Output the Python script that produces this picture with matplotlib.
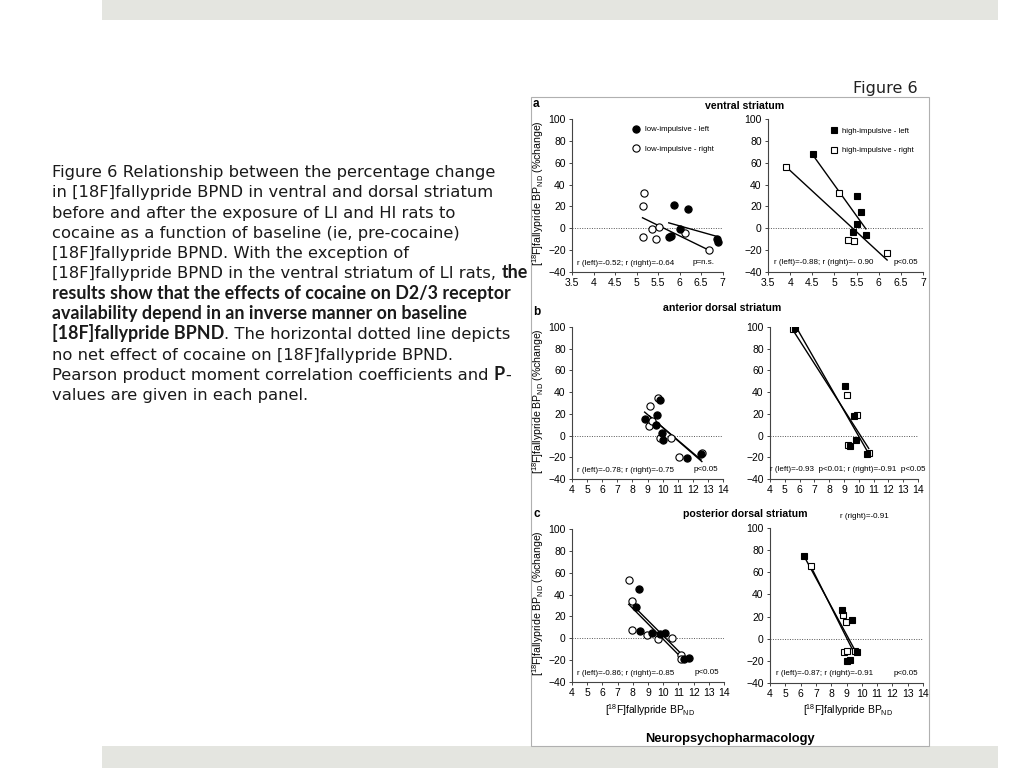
import numpy as np
import matplotlib
matplotlib.use("Agg")
import matplotlib.pyplot as plt
from matplotlib.patches import Rectangle

plt.rcParams['font.family'] = ['Liberation Sans', 'DejaVu Sans']
plt.rcParams['mathtext.default'] = 'regular'

# ---------------- data ----------------
# panel a: ventral striatum
a_li_left_x = [5.75, 5.80, 5.87, 6.00, 6.20, 6.88, 6.90]
a_li_left_y = [-8, -7, 21, -1, 18, -10, -13]
a_li_right_x = [5.17, 5.14, 5.14, 5.36, 5.46, 5.52, 6.13, 6.69]
a_li_right_y = [32, 20, -8, -1, -10, 1, -4, -20]
a_hi_left_x = [4.52, 5.51, 5.61, 5.51, 5.43, 5.71]
a_hi_left_y = [68, 30, 15, 4, -3, -6]
a_hi_right_x = [3.91, 5.10, 5.30, 5.44, 6.19]
a_hi_right_y = [56, 32, -11, -12, -23]

# panel b: anterior dorsal striatum
b_li_left_x = [8.81, 9.56, 9.65, 9.83, 9.98, 10.05, 11.62, 12.54]
b_li_left_y = [15, 10, 19, 33, 2, -4, -21, -17]
b_li_right_x = [9.12, 9.17, 9.32, 9.68, 9.81, 10.53, 11.10, 12.60]
b_li_right_y = [9, 27, 13, 35, -2, -2, -20, -16]
b_hi_left_x = [5.69, 9.10, 9.69, 9.80, 9.40, 10.58]
b_hi_left_y = [99, 46, 18, -4, -10, -17]
b_hi_right_x = [5.53, 9.19, 9.87, 9.25, 10.67]
b_hi_right_y = [98, 37, 19, -9, -16]

# panel c: posterior dorsal striatum
c_li_left_x = [8.19, 8.43, 8.45, 9.24, 9.79, 10.10, 11.37, 11.68]
c_li_left_y = [29, 45, 7, 4.5, 3.5, 5, -19, -18]
c_li_right_x = [7.73, 7.93, 7.93, 8.91, 9.66, 10.58, 11.15, 11.15]
c_li_right_y = [53, 34, 8, 3, -1, 0, -15, -19]
c_hi_left_x = [6.22, 8.73, 9.38, 9.67, 9.05, 9.20]
c_hi_left_y = [75, 26, 17, -12, -20, -19]
c_hi_right_x = [6.66, 8.75, 8.95, 8.82, 9.01, 9.55]
c_hi_right_y = [66, 21, 15, -12, -11, -11]

a_xticks = [3.5, 4, 4.5, 5, 5.5, 6, 6.5, 7]
a_xticklabels = ["3.5", "4", "4.5", "5", "5.5", "6", "6.5", "7"]
bc_xticks = list(range(4, 15))
yticks = [-40, -20, 0, 20, 40, 60, 80, 100]

panel_titles = ["ventral striatum", "anterior dorsal striatum", "posterior dorsal striatum"]
panel_letters = ["a", "b", "c"]
stats_left = [("r (left)=-0.52; r (right)=-0.64", "p=n.s."),
              ("r (left)=-0.78; r (right)=-0.75", "p<0.05"),
              ("r (left)=-0.86; r (right)=-0.85", "p<0.05")]
stats_right = [("r (left)=-0.88; r (right)=- 0.90", "p<0.05"),
               ("r (left)=-0.93  p<0.01; r (right)=-0.91  p<0.05", ""),
               ("r (left)=-0.87; r (right)=-0.91", "p<0.05")]

caption_lines = [
    [("Figure 6 Relationship between the percentage change", "normal")],
    [("in [18F]fallypride BPND in ventral and dorsal striatum", "normal")],
    [("before and after the exposure of LI and HI rats to", "normal")],
    [("cocaine as a function of baseline (ie, pre-cocaine)", "normal")],
    [("[18F]fallypride BPND. With the exception of", "normal")],
    [("[18F]fallypride BPND in the ventral striatum of LI rats, ", "normal"), ("the", "bold")],
    [("results show that the effects of cocaine on D2/3 receptor", "bold")],
    [("availability depend in an inverse manner on baseline", "bold")],
    [("[18F]fallypride BPND", "bold"), (". The horizontal dotted line depicts", "normal")],
    [("no net effect of cocaine on [18F]fallypride BPND.", "normal")],
    [("Pearson product moment correlation coefficients and ", "normal"), ("P", "bold"), ("-", "normal")],
    [("values are given in each panel.", "normal")],
]

# ---------------- figure ----------------
W, H = 1024, 768
fig = plt.figure(figsize=(W / 100, H / 100), dpi=100)
fig.patch.set_facecolor("white")


def frac_rect(x0, y0, x1, y1):
    return [x0 / W, 1 - y1 / H, (x1 - x0) / W, (y1 - y0) / H]


# slide decorations
bar_col = "#e4e5e0"
fig.patches.append(Rectangle((102 / W, 1 - 20 / H), (998 - 102) / W, 20 / H,
                             transform=fig.transFigure, facecolor=bar_col, edgecolor="none"))
fig.patches.append(Rectangle((102 / W, 0), (998 - 102) / W, (768 - 746) / H,
                             transform=fig.transFigure, facecolor=bar_col, edgecolor="none"))
fig.patches.append(Rectangle((531 / W, 1 - 746 / H), (929 - 531) / W, (746 - 97) / H,
                             transform=fig.transFigure, facecolor="none", edgecolor="#b0b0b0", lw=0.8))

fig.text(853 / W, 1 - 88 / H, "Figure 6", fontsize=11.5, family=["DejaVu Sans"],
         va="center", ha="left", color="#222222")

# caption
renderer = fig.canvas.get_renderer()
cap_fonts = {"normal": (["DejaVu Sans"], 11.75), "bold": (["Lato", "DejaVu Sans"], 12.9)}
base0 = 177.0
step = 20.3
for i, segs in enumerate(caption_lines):
    xpx = 52.0
    ypx = base0 + i * step
    for txt, wt in segs:
        fam, size = cap_fonts[wt]
        t = fig.text(xpx / W, 1 - ypx / H, txt, fontsize=size, family=fam,
                     weight=wt, va="baseline", ha="left", color="#1a1a1a")
        bb = t.get_window_extent(renderer=renderer)
        xpx = bb.x1

# axes rectangles in pixels (x0, ytop, x1, ybottom)
rects = [
    [(572, 119, 722.5, 272), (768, 119, 923, 272)],
    [(572, 327, 723, 479), (770, 327, 918, 479)],
    [(572, 529, 724, 682), (770, 528, 923, 683)],
]

li_data = [
    (a_li_left_x, a_li_left_y, a_li_right_x, a_li_right_y),
    (b_li_left_x, b_li_left_y, b_li_right_x, b_li_right_y),
    (c_li_left_x, c_li_left_y, c_li_right_x, c_li_right_y),
]
hi_data = [
    (a_hi_left_x, a_hi_left_y, a_hi_right_x, a_hi_right_y),
    (b_hi_left_x, b_hi_left_y, b_hi_right_x, b_hi_right_y),
    (c_hi_left_x, c_hi_left_y, c_hi_right_x, c_hi_right_y),
]

tick_fs = 7.5
ylabel = "[$^{18}$F]fallypride BP$_{ND}$ (%change)"
xlabel = "[$^{18}$F]fallypride BP$_{ND}$"


def style_axes(ax, row):
    for s in ["top", "right"]:
        ax.spines[s].set_visible(False)
    for s in ["left", "bottom"]:
        ax.spines[s].set_color("#444444")
        ax.spines[s].set_linewidth(0.8)
    ax.set_ylim(-40, 100)
    ax.set_yticks(yticks)
    if row == 0:
        ax.set_xlim(3.5, 7)
        ax.set_xticks(a_xticks)
        ax.set_xticklabels(a_xticklabels)
    else:
        ax.set_xlim(4, 14)
        ax.set_xticks(bc_xticks)
    ax.tick_params(axis="both", labelsize=tick_fs, length=2.5, width=0.7,
                   color="#444444", pad=2, direction="out")
    ax.axhline(0, ls=(0, (1, 1.5)), color="#555555", lw=0.7, zorder=1)


def fit_line(ax, x, y):
    x = np.asarray(x, float)
    y = np.asarray(y, float)
    k, b = np.polyfit(x, y, 1)
    xs = np.array([x.min(), x.max()])
    ax.plot(xs, k * xs + b, color="black", lw=1.0, zorder=2)


ms_c = 5.2
ms_s = 5.0
for row in range(3):
    # left: low impulsive (circles)
    ax = fig.add_axes(frac_rect(*rects[row][0]))
    style_axes(ax, row)
    lx, ly, rx, ry = li_data[row]
    fit_line(ax, lx, ly)
    fit_line(ax, rx, ry)
    h1, = ax.plot(rx, ry, "o", ms=ms_c, mfc="white", mec="black", mew=0.8, ls="none", zorder=3,
                  label="low-impulsive - right")
    h0, = ax.plot(lx, ly, "o", ms=ms_c, mfc="black", mec="black", mew=0.8, ls="none", zorder=4,
                  label="low-impulsive - left")
    if row == 0:
        ax.legend(handles=[h0, h1], loc="upper left", bbox_to_anchor=(0.36, 0.99), frameon=False,
                  fontsize=5.6, labelspacing=1.55, handletextpad=0.5, handlelength=1.2,
                  borderpad=0.2, numpoints=1)
    s, p = stats_left[row]
    ax.text(0.03, 0.055, s, transform=ax.transAxes, fontsize=5.8, ha="left", va="center")
    ax.text(0.97 if row > 0 else 0.80, 0.065, p, transform=ax.transAxes, fontsize=5.8,
            ha="right" if row > 0 else "left", va="center")

    # right: high impulsive (squares)
    ax2 = fig.add_axes(frac_rect(*rects[row][1]))
    style_axes(ax2, row)
    lx, ly, rx, ry = hi_data[row]
    fit_line(ax2, lx, ly)
    fit_line(ax2, rx, ry)
    g1, = ax2.plot(rx, ry, "s", ms=ms_s, mfc="white", mec="black", mew=0.8, ls="none", zorder=3,
                   label="high-impulsive - right")
    g0, = ax2.plot(lx, ly, "s", ms=ms_s, mfc="black", mec="black", mew=0.8, ls="none", zorder=4,
                   label="high-impulsive - left")
    if row == 0:
        ax2.legend(handles=[g0, g1], loc="upper left", bbox_to_anchor=(0.36, 0.98), frameon=False,
                   fontsize=5.6, labelspacing=1.55, handletextpad=0.5, handlelength=1.2,
                   borderpad=0.2, numpoints=1)
    s, p = stats_right[row]
    ax2.text(0.04 if row != 1 else 0.0, 0.06, s, transform=ax2.transAxes, fontsize=5.8,
             ha="left", va="center")
    if p:
        ax2.text(0.97, 0.06, p, transform=ax2.transAxes, fontsize=5.8, ha="right", va="center")

    # row labels
    ytop = rects[row][0][1]
    ybot = rects[row][0][3]
    fig.text(533 / W, 1 - (ytop - 15) / H, panel_letters[row], fontsize=8.5, weight="bold",
             va="center", ha="left")
    fig.text(538 / W, 1 - ((ytop + ybot) / 2 - 2) / H, ylabel, rotation=90, fontsize=7.6,
             va="center", ha="center")

# titles
fig.text(745 / W, 1 - 106 / H, panel_titles[0], fontsize=7.6, weight="bold", ha="center", va="center")
fig.text(722 / W, 1 - 308 / H, panel_titles[1], fontsize=7.6, weight="bold", ha="center", va="center")
fig.text(745 / W, 1 - 514 / H, panel_titles[2], fontsize=7.6, weight="bold", ha="center", va="center")
fig.text(840 / W, 1 - 516 / H, "r (right)=-0.91", fontsize=5.8, ha="left", va="center")

# x labels
fig.text(650 / W, 1 - 710 / H, xlabel, fontsize=7.4, ha="center", va="center")
fig.text(848 / W, 1 - 710 / H, xlabel, fontsize=7.4, ha="center", va="center")

fig.text(730 / W, 1 - 739 / H, "Neuropsychopharmacology", fontsize=9.3, weight="bold",
         ha="center", va="center", family=["Liberation Sans", "DejaVu Sans"])

fig.savefig("out.png", dpi=100, facecolor="white")
